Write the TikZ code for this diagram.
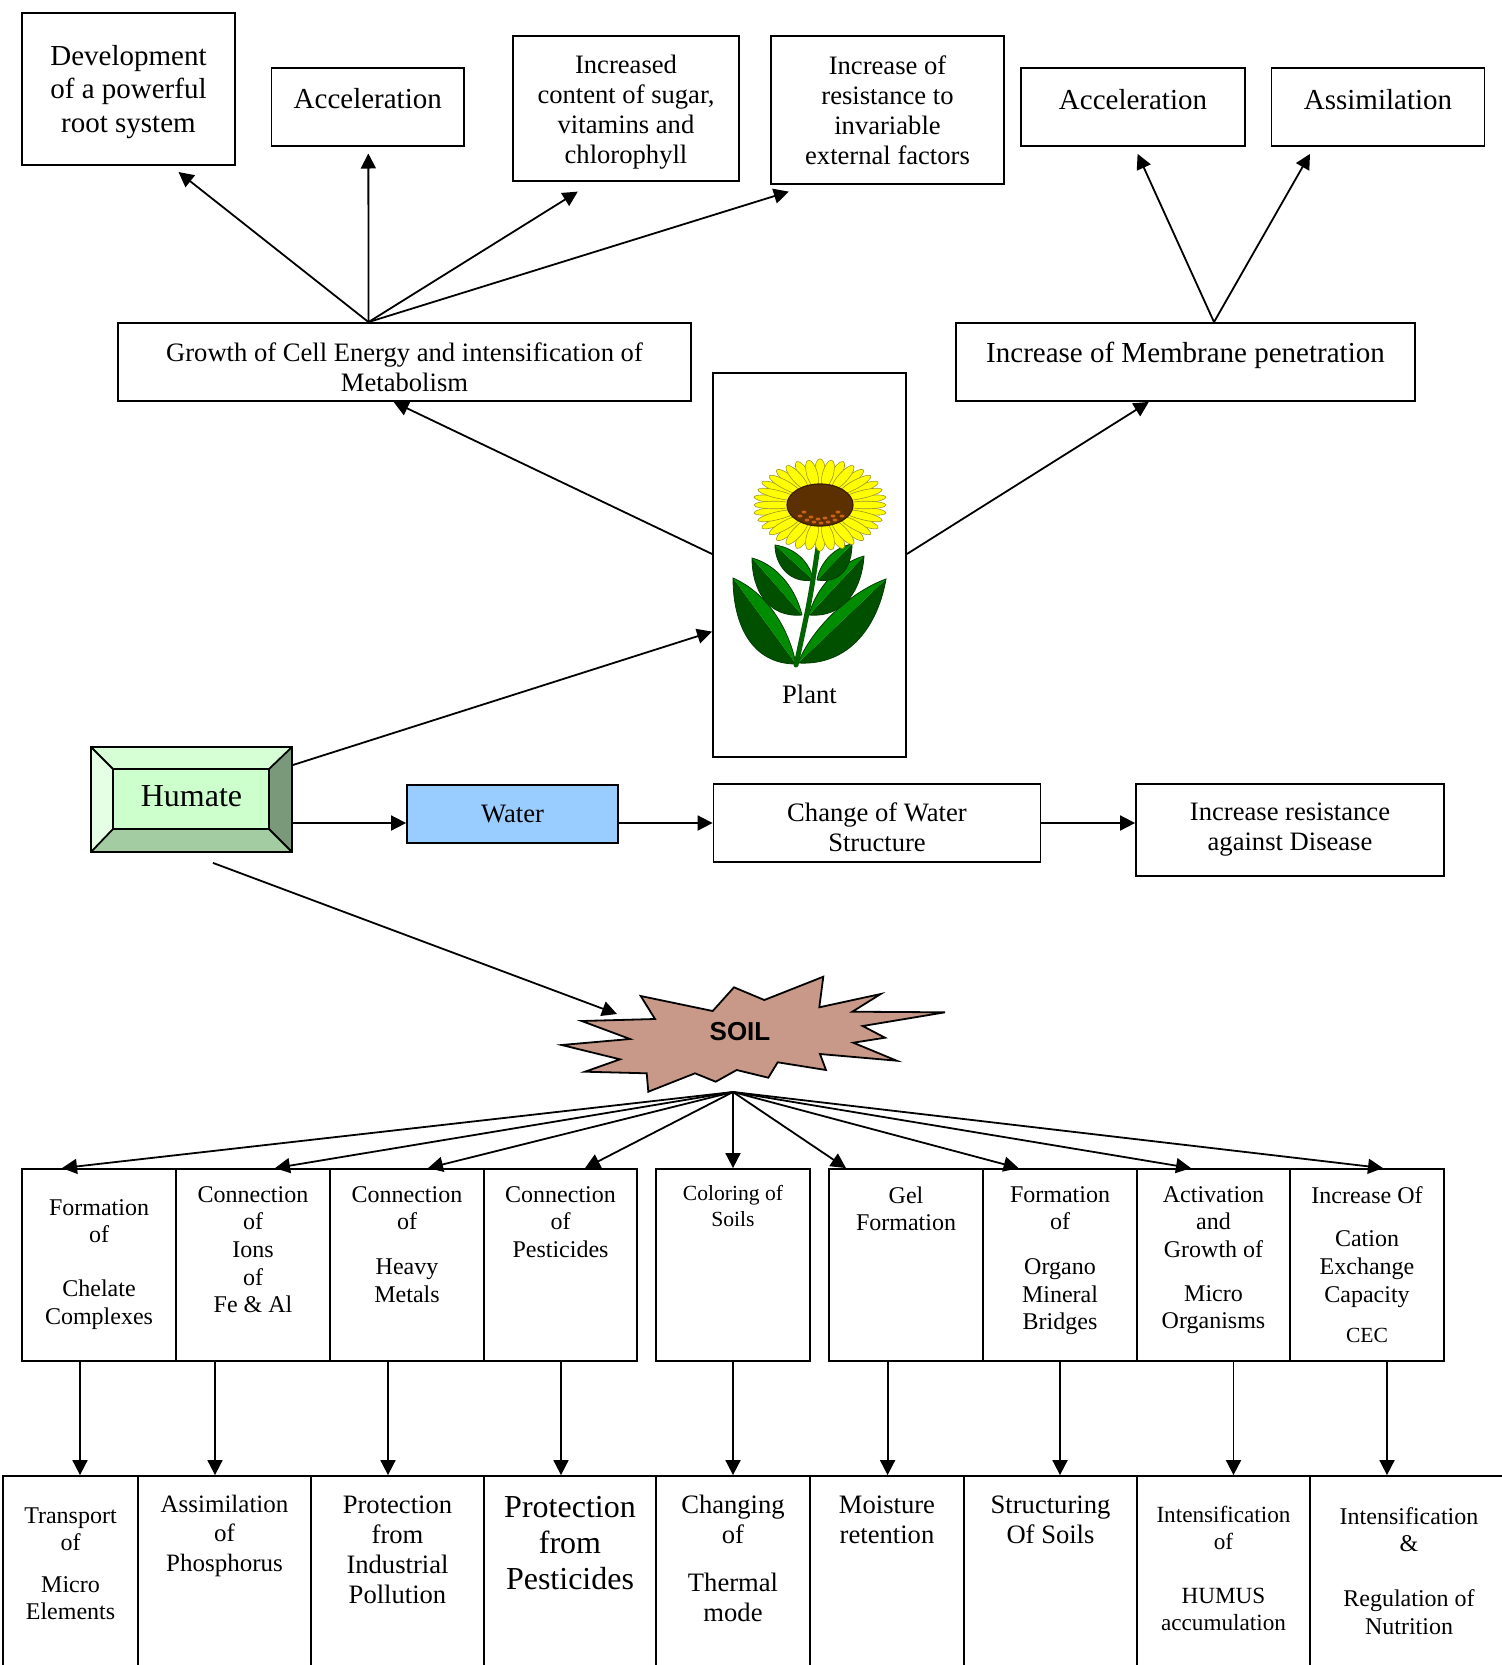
\documentclass[tikz,border=0pt]{standalone}
\usepackage{fontspec}
\setmainfont{Liberation Serif}
\newfontfamily\soilfont{Liberation Sans}
\usetikzlibrary{arrows.meta}

\definecolor{watercol}{RGB}{153,204,255}
\definecolor{soilcol}{RGB}{200,152,136}
\definecolor{humin}{RGB}{204,255,204}
\definecolor{humtop}{RGB}{214,255,214}
\definecolor{humleft}{RGB}{228,255,228}
\definecolor{humbot}{RGB}{163,204,163}
\definecolor{humright}{RGB}{122,153,122}
\definecolor{petalcol}{RGB}{255,255,0}
\definecolor{petalline}{RGB}{160,150,40}
\definecolor{discol}{RGB}{92,48,0}
\definecolor{discline}{RGB}{60,30,0}
\definecolor{seedcol}{RGB}{200,100,20}
\definecolor{leafdark}{RGB}{0,80,0}
\definecolor{leafmid}{RGB}{0,140,0}
\definecolor{leafline}{RGB}{0,60,0}
\definecolor{stemcol}{RGB}{0,100,0}

\newcommand{\fntH}{\fontsize{16}{18}\selectfont}
\newcommand{\fntL}{\fontsize{14.5}{16.7}\selectfont}
\newcommand{\fntM}{\fontsize{13.3}{15}\selectfont}
\newcommand{\fntSA}{\fontsize{12.5}{14.6}\selectfont}
\newcommand{\fntS}{\fontsize{12}{13.8}\selectfont}
\newcommand{\fntR}{\fontsize{11.6}{13.3}\selectfont}
\newcommand{\fntT}{\fontsize{10.8}{12.7}\selectfont}

\begin{document}
\begin{tikzpicture}[x=0.5pt, y=-0.5pt,
    box/.style={draw, line width=0.9pt, inner sep=0pt},
    txt/.style={align=center, inner sep=0pt, anchor=north},
    arr/.style={line width=0.9pt, -{Triangle[length=7.5pt,width=7.5pt]}},
    petal/.style={fill=petalcol, draw=petalline, line width=0.3pt},
    leaf/.style={fill=leafdark},
    leaflit/.style={fill=leafmid},
    bevel/.style={draw, line width=0.9pt}]
  \useasboundingbox (0,0) rectangle (1502,1665);

  % plant effects
  \node[box, minimum width=106.5pt, minimum height=76pt] (dev) at (128.5,88.6) {};
  \node[txt, font=\fntL] (dev-t) at (128.5,45) {Development\\of a powerful\\root system};
  \node[box, minimum width=96.25pt, minimum height=39pt] (acc1) at (367.75,107) {};
  \node[txt, font=\fntL] (acc1-t) at (367.75,88) {Acceleration};
  \node[box, minimum width=113pt, minimum height=72.5pt] (sugar) at (626,108.5) {};
  \node[txt, font=\fntM] (sugar-t) at (626,55) {Increased\\content of sugar,\\vitamins and\\chlorophyll};
  \node[box, minimum width=116.5pt, minimum height=74pt] (resist) at (887.5,110) {};
  \node[txt, font=\fntM] (resist-t) at (887.5,55) {Increase of\\resistance to\\invariable\\external factors};
  \node[box, minimum width=111.75pt, minimum height=39pt] (acc2) at (1133,107) {};
  \node[txt, font=\fntL] (acc2-t) at (1133,89) {Acceleration};
  \node[box, minimum width=106.5pt, minimum height=39pt] (assim) at (1378,107) {};
  \node[txt, font=\fntL] (assim-t) at (1378,89) {Assimilation};

  \node[box, minimum width=286.5pt, minimum height=39pt] (growth) at (404.5,362) {};
  \node[txt, font=\fntM] (growth-t) at (404.5,342) {Growth of Cell Energy and intensification of\\Metabolism};
  \node[box, minimum width=229.5pt, minimum height=39pt] (membr) at (1185.5,362) {};
  \node[txt, font=\fntL] (membr-t) at (1185.5,342) {Increase of Membrane penetration};

  \coordinate (g-top) at ([xshift=-18pt]growth.north);
  \draw[arr] (g-top) -- ([xshift=25pt,yshift=-3.25pt]dev.south);
  \draw[arr] (g-top) -- ([xshift=0.3pt,yshift=-3.3pt]acc1.south);
  \draw[arr] (g-top) -- ([xshift=-24.1pt,yshift=-4.85pt]sugar.south);
  \draw[arr] (g-top) -- ([xshift=-49.35pt,yshift=-3.35pt]resist.south);
  \coordinate (mb-top) at ([xshift=14.25pt]membr.north);
  \draw[arr] (mb-top) -- ([xshift=2.3pt,yshift=-3.5pt]acc2.south);
  \draw[arr] (mb-top) -- ([xshift=-34pt,yshift=-3.5pt]assim.south);

  % plant
  \node[box, minimum width=96.5pt, minimum height=192pt] (plant) at (809.5,565) {};
  \node[txt, font=\fntM] (plant-t) at (809.5,685) {Plant};
  \foreach \b/\oa/\ob/\t/\ia/\ib in {
      {(796,664)}/{(752,664)}/{(733,625)}/{(733,578)}/{(765,592)}/{(788,625)},
      {(798,663)}/{(850,666)}/{(878,625)}/{(886,579)}/{(850,592)}/{(812,628)},
      {(802,615)}/{(768,618)}/{(752,590)}/{(752,558)}/{(778,565)}/{(796,590)},
      {(809,615)}/{(845,618)}/{(862,588)}/{(864,556)}/{(838,563)}/{(815,590)},
      {(813,580)}/{(790,584)}/{(775,565)}/{(775,545)}/{(795,548)}/{(810,562)},
      {(817,580)}/{(842,584)}/{(852,565)}/{(852,544)}/{(835,547)}/{(820,562)}}
  {
    \fill[leaf] \b .. controls \oa and \ob .. \t -- cycle;
    \fill[leaflit] \t .. controls \ia and \ib .. \b -- cycle;
    \draw[leafline, line width=0.4pt] \b .. controls \oa and \ob .. \t .. controls \ia and \ib .. \b;
  }
  \draw[stemcol, line width=2.5pt, line cap=round] (818,547) .. controls (810,600) .. (796,665);
  \begin{scope}[shift={(820,505)}, yscale=0.69]
    \foreach \a in {10,30,...,350} \filldraw[petal, rotate=\a] (47,0) ellipse (20 and 5.5);
    \foreach \a in {0,20,...,340} \filldraw[petal, rotate=\a] (46,0) ellipse (20 and 5.5);
  \end{scope}
  \filldraw[fill=discol, draw=discline, line width=0.6pt] (820,505) ellipse (33 and 21);
  \foreach \p in {(800,516),(807,520),(814,522),(821,523),(828,522),(835,520),(842,516),(811,517),(825,518),(818,519),(833,516),(804,512),(838,512)}
    \fill[seedcol] \p ellipse (2.5 and 1.5);

  \draw[arr] ([yshift=5.5pt]plant.west) -- ([xshift=-5.45pt]growth.south);
  \draw[arr] ([yshift=5.5pt]plant.east) -- ([xshift=-18.35pt]membr.south);

  % humate and water chain
  \fill[humtop] (91,747) -- (292,747) -- (269,769) -- (113,769) -- cycle;
  \fill[humleft] (91,747) -- (113,769) -- (113,829) -- (91,852) -- cycle;
  \fill[humbot] (91,852) -- (113,829) -- (269,829) -- (292,852) -- cycle;
  \fill[humright] (292,747) -- (292,852) -- (269,829) -- (269,769) -- cycle;
  \filldraw[fill=humin, bevel] (113,769) rectangle (269,829);
  \draw[bevel] (91,747) -- (113,769) (292,747) -- (269,769) (91,852) -- (113,829) (292,852) -- (269,829);
  \node[box, minimum width=100.5pt, minimum height=52.5pt, font=\fntH] (humate) at (191.5,799.5) {};
  \node[font=\fntH, inner sep=0pt] (humate-t) at (191.5,796) {Humate};

  \node[box, fill=watercol, minimum width=105.5pt, minimum height=29pt, font=\fntM] (water) at (512.5,814) {Water};
  \node[box, minimum width=163.5pt, minimum height=38.75pt] (change) at (877,823) {};
  \node[txt, font=\fntM] (change-t) at (877,802) {Change of Water\\Structure};
  \node[box, minimum width=154pt, minimum height=45.75pt] (disease) at (1290,830) {};
  \node[txt, font=\fntM] (disease-t) at (1290,802) {Increase resistance\\against Disease};

  \draw[arr] ([yshift=17.25pt]humate.east) -- ([yshift=-33.3pt]plant.west);
  \draw[arr] ([yshift=-11.75pt]humate.east) coordinate (h-e) -- (h-e -| water.west);
  \draw[arr] (h-e -| water.east) -- (h-e -| change.west);
  \draw[arr] (h-e -| change.east) -- (h-e -| disease.west);

  % soil
  \filldraw[fill=soilcol, line width=0.9pt] (581.7,1021) -- (655,1019) -- (640.7,996) -- (712.7,1011)
    -- (734,987.3) -- (764.3,1000) -- (823.3,976.7) -- (819.3,1007.3) -- (880.7,994) -- (852.3,1011.7)
    -- (945,1012.3) -- (862.7,1026) -- (885,1037.7) -- (853.3,1042.7) -- (896.7,1060.7) -- (820,1054)
    -- (826,1070) -- (777.7,1062.3) -- (768.3,1077.7) -- (736.7,1070) -- (715.7,1081.7) -- (695,1073.3)
    -- (648.3,1091.7) -- (646.7,1073.3) -- (585,1071.7) -- (620,1059.3) -- (561.7,1045) -- (630,1039) -- cycle;
  \node[font=\soilfont\bfseries\fontsize{13}{15}\selectfont, inner sep=0pt] (soil) at (740,1032) {SOIL};
  \coordinate (soil-l) at (617,1014);
  \coordinate (soil-b) at (733,1092);
  \draw[arr] ([xshift=10.75pt,yshift=-5pt]humate.south) -- (soil-l);

  % results in the soil
  \foreach \i/\xa/\xb/\ty/\fn/\txt in {
      1/3/138/1507/\fntS/{Transport\\of\\[7pt]Micro\\Elements},
      2/138/311/1495/\fntSA/{Assimilation\\of\\Phosphorus},
      3/311/484/1495/\fntM/{Protection\\from\\Industrial\\Pollution},
      4/484/656/1496/\fntH/{Protection\\from\\Pesticides},
      5/656/810/1495/\fntM/{Changing\\of\\[9pt]Thermal\\mode},
      6/810/964/1495/\fntM/{Moisture\\retention},
      7/964/1137/1495/\fntM/{Structuring\\Of Soils},
      8/1137/1310/1506/\fntR/{Intensification\\of\\[14pt]HUMUS\\accumulation},
      9/1310/1508/1507/\fntS/{Intensification\\\&\\[13.5pt]Regulation of\\Nutrition}}
  {
    \node[box, minimum width={(\xb-\xa)*0.5pt}, minimum height=112pt] (b\i) at ({(\xa+\xb)/2},1588) {};
    \node[txt, font=\fn] (b\i-t) at ({(\xa+\xb)/2},\ty) {\txt};
  }

  % soil actions
  \foreach \i/\xa/\xb/\ty/\fn/\ua/\ub/\txt in {
      1/22/176/1199/\fntS/-18.5/-9.5/{Formation\\of\\[13pt]Chelate\\Complexes},
      2/176/330/1186/\fntS/11/-19/{Connection\\of\\Ions\\of\\Fe \& Al},
      3/330/484/1186/\fntS/10.5/-9.5/{Connection\\of\\[8.5pt]Heavy\\Metals},
      4/484/637/1186/\fntS/12.25/0.25/{Connection\\of\\Pesticides},
      5/656/810/1185/\fntT/0/0/{Coloring of\\Soils},
      6/829/983/1186/\fntS/-30/-9.2/{Gel\\Formation},
      7/983/1137/1186/\fntS/-20.7/0/{Formation\\of\\[8.5pt]Organo\\Mineral\\Bridges},
      8/1137/1290/1186/\fntS/-11.25/10/{Activation\\and\\Growth of\\[8pt]Micro\\Organisms},
      9/1290/1444/1186/\fntS/8/10/{Increase Of\\[8pt]Cation\\Exchange\\Capacity\\[6.5pt]{\fntT CEC}}}
  {
    \node[box, minimum width={(\xb-\xa)*0.5pt}, minimum height=96pt] (m\i) at ({(\xa+\xb)/2},1265) {};
    \node[txt, font=\fn] (m\i-t) at ({(\xa+\xb)/2},\ty) {\txt};
    \draw[arr] (soil-b) -- ([xshift=\ua*1pt]m\i.north);
    \draw[arr] ([xshift=\ub*1pt]m\i.south) coordinate (d\i) -- (d\i |- b\i.north);
  }
\end{tikzpicture}
\end{document}
